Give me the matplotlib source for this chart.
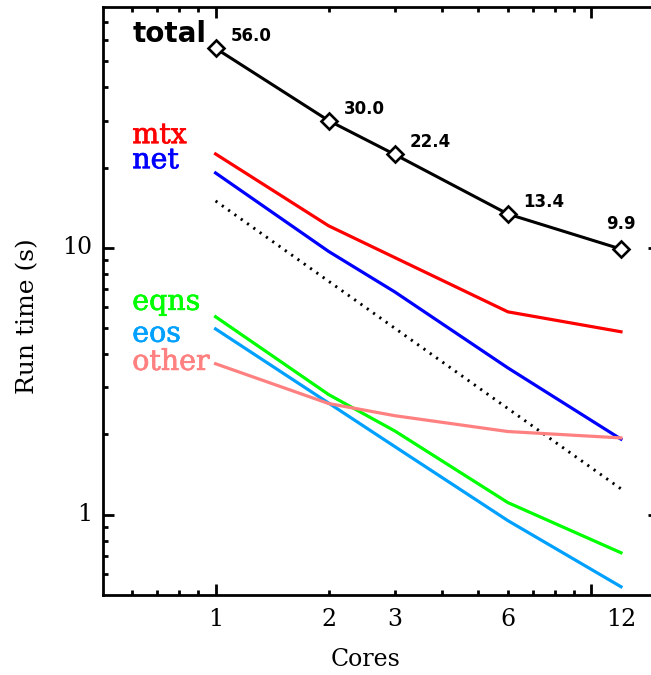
import matplotlib
matplotlib.use("Agg")
import matplotlib.pyplot as plt
import matplotlib.patheffects as pe
from matplotlib.transforms import blended_transform_factory
from matplotlib.ticker import NullFormatter, FixedLocator

cores = [1, 2, 3, 6, 12]
total = [56.0, 30.0, 22.4, 13.4, 9.9]
mtx = [22.5, 12.1, 9.2, 5.76, 4.85]
net = [19.1, 9.7, 6.84, 3.55, 1.92]
eqns = [5.52, 2.82, 2.06, 1.11, 0.72]
eos = [4.97, 2.62, 1.80, 0.95, 0.537]
other = [3.68, 2.61, 2.35, 2.05, 1.94]
ideal = [15.0, 7.5, 5.0, 2.5, 1.25]
xtick_labels = ["1", "2", "3", "6", "12"]

series = [
    ("mtx", mtx, "#ff0000"),
    ("net", net, "#0000ff"),
    ("eqns", eqns, "#00ff00"),
    ("eos", eos, "#00a0ff"),
    ("other", other, "#ff8080"),
]
# label baselines (data units)
label_y = {"total": 59.1, "mtx": 24.7, "net": 19.9, "eqns": 5.86, "eos": 4.45, "other": 3.49}

W, H = 651, 675
fig = plt.figure(figsize=(W / 100, H / 100), dpi=100)
left, right, top, bottom = 102.5, 659, 7, 595
ax = fig.add_axes([left / W, 1 - bottom / H, (right - left) / W, (bottom - top) / H])
ax.set_xscale("log")
ax.set_yscale("log")
ax.set_xlim(0.5, 15.15)
ax.set_ylim(0.5, 80)

serif = "DejaVu Serif"

ax.plot(cores, ideal, color="black", lw=2.1, linestyle=(0, (0.75, 1.9)))
for name, vals, col in series:
    ax.plot(cores, vals, color=col, lw=2.3, solid_joinstyle="round")
ax.plot(cores, total, color="black", lw=2.2, marker="D", markersize=8,
        markerfacecolor="white", markeredgewidth=1.9, markeredgecolor="black")

for i, (x, v) in enumerate(zip(cores, total)):
    if i < len(cores) - 1:
        ax.annotate(f"{v:.1f}", (x, v), xytext=(15, 7), textcoords="offset pixels",
                    ha="left", va="baseline", fontsize=12, fontweight="bold",
                    family="DejaVu Sans")
    else:
        ax.annotate(f"{v:.1f}", (x, v), xytext=(0, 20), textcoords="offset pixels",
                    ha="center", va="baseline", fontsize=12, fontweight="bold",
                    family="DejaVu Sans")

ax.text(0.6, label_y["total"], "total", color="black", fontsize=20, fontweight="bold",
        family="DejaVu Sans", ha="left", va="baseline")
for name, vals, col in series:
    ax.text(0.6, label_y[name], name, color=col, fontsize=20.5,
            family=serif, ha="left", va="baseline",
            path_effects=[pe.withStroke(linewidth=0.5, foreground=col)])

# ticks
ax.xaxis.set_major_locator(FixedLocator([1, 10]))
ax.xaxis.set_minor_locator(FixedLocator([0.6, 0.7, 0.8, 0.9, 2, 3, 4, 5, 6, 7, 8, 9]))
ax.xaxis.set_major_formatter(NullFormatter())
ax.xaxis.set_minor_formatter(NullFormatter())
ax.yaxis.set_major_locator(FixedLocator([1, 10]))
ax.yaxis.set_minor_locator(FixedLocator([0.6, 0.7, 0.8, 0.9, 2, 3, 4, 5, 6, 7, 8, 9,
                                          20, 30, 40, 50, 60, 70]))
ax.yaxis.set_major_formatter(NullFormatter())
ax.yaxis.set_minor_formatter(NullFormatter())
ax.tick_params(which="both", direction="in", top=True, right=True, width=2)
ax.tick_params(which="major", length=8)
ax.tick_params(which="minor", length=3.8)
for s in ax.spines.values():
    s.set_linewidth(2)

tr = blended_transform_factory(ax.transData, ax.transAxes)
for x, lab in zip(cores, xtick_labels):
    ax.text(x, -0.022, lab, transform=tr, ha="center", va="top", fontsize=17, family=serif)
trY = blended_transform_factory(ax.transAxes, ax.transData)
for yv, lab in [(1, "1"), (10, "10")]:
    ax.text(-0.018, yv, lab, transform=trY, ha="right", va="center", fontsize=17, family=serif)

fig.text(366 / W, 1 - 660 / H, "Cores", ha="center", va="center",
         fontsize=17, family=serif)
fig.text(28 / W, 1 - 316 / H, "Run time (s)", ha="center", va="center", rotation=90,
         fontsize=18, family=serif)

fig.savefig("out.png", dpi=100)
